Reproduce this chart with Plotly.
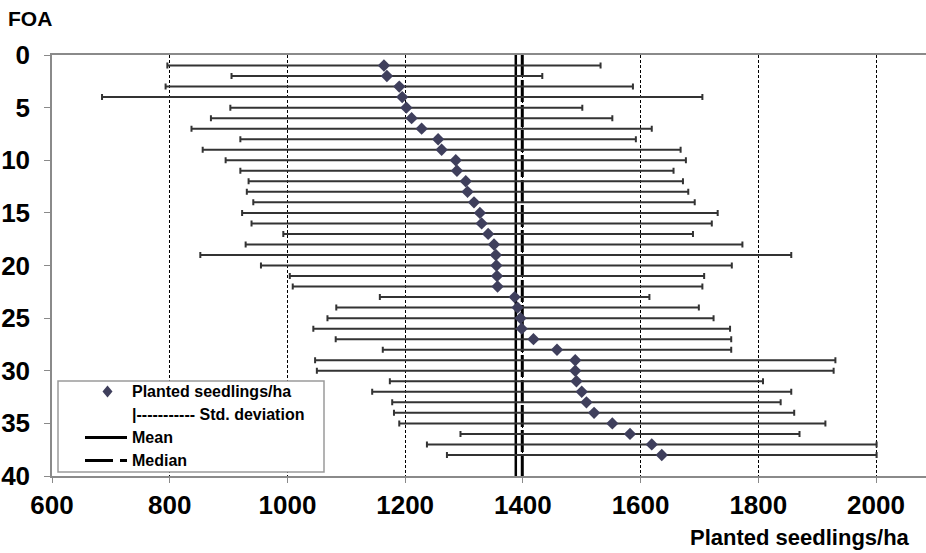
import plotly.graph_objects as go

# ---- data ----
foa = list(range(1, 39))
seedlings = [1164, 1169, 1190, 1195, 1202, 1211, 1228, 1256, 1262, 1286,
             1288, 1303, 1306, 1317, 1327, 1330, 1341, 1351, 1354, 1355,
             1356, 1357, 1386, 1391, 1396, 1398, 1418, 1458, 1489, 1489,
             1491, 1500, 1508, 1521, 1552, 1582, 1619, 1636]
std_dev = [368, 264, 397, 510, 299, 341, 391, 336, 406, 391,
           368, 369, 375, 375, 404, 391, 348, 422, 502, 400,
           352, 348, 229, 308, 328, 354, 336, 296, 442, 439,
           317, 356, 330, 340, 362, 288, 382, 365]
mean_value = 1388
median_value = 1399
x_ticks = [600, 800, 1000, 1200, 1400, 1600, 1800, 2000]
y_ticks = [0, 5, 10, 15, 20, 25, 30, 35, 40]

FONT = "Liberation Sans Narrow, Arial Narrow, Liberation Sans, Arial, sans-serif"

W, H = 926, 553
L, R, T, B = 52, 0, 55, 77
PW, PH = W - L - R, H - T - B


def px(xp):
    return (xp - L) / PW


def py(yp):
    return (H - B - yp) / PH


fig = go.Figure()

# mean / median lines
fig.add_trace(go.Scatter(x=[mean_value, mean_value], y=[0, 40], mode="lines",
                         line=dict(color="black", width=2.5), showlegend=False,
                         hoverinfo="skip"))
fig.add_trace(go.Scatter(x=[median_value, median_value], y=[0, 40], mode="lines",
                         line=dict(color="black", width=3, dash="22px,3px"),
                         showlegend=False, hoverinfo="skip"))

# data points with std deviation
fig.add_trace(go.Scatter(
    x=seedlings, y=foa, mode="markers",
    marker=dict(symbol="diamond", size=9.5, color="#3f3f5c"),
    error_x=dict(type="data", array=std_dev, visible=True,
                 color="#333333", thickness=2, width=3),
    showlegend=False))

shapes = []
annotations = []

# legend box
shapes.append(dict(type="rect", xref="paper", yref="paper",
                   x0=px(58), x1=px(324), y0=py(472), y1=py(381),
                   fillcolor="white", line=dict(color="#9a9a9a", width=1.5),
                   layer="above"))
# diamond symbol
cx, cy = 107.5, 391.5
shapes.append(dict(type="path", xref="paper", yref="paper",
                   path=f"M {px(cx-5)},{py(cy)} L {px(cx)},{py(cy-6)} L {px(cx+5)},{py(cy)} L {px(cx)},{py(cy+6)} Z",
                   fillcolor="#3f3f5c", line=dict(width=0), layer="above"))
# mean line symbol
shapes.append(dict(type="line", xref="paper", yref="paper",
                   x0=px(85), x1=px(127), y0=py(437.5), y1=py(437.5),
                   line=dict(color="black", width=3), layer="above"))
# median line symbol
shapes.append(dict(type="line", xref="paper", yref="paper",
                   x0=px(85), x1=px(113), y0=py(460.5), y1=py(460.5),
                   line=dict(color="black", width=3), layer="above"))
shapes.append(dict(type="line", xref="paper", yref="paper",
                   x0=px(120), x1=px(127), y0=py(460.5), y1=py(460.5),
                   line=dict(color="black", width=3), layer="above"))

leg_font = dict(family=FONT, size=16, color="black", weight="bold")
for txt, yy in [("Planted seedlings/ha", 391.5),
                ("|----------- Std. deviation", 414.5),
                ("Mean", 437.5),
                ("Median", 460.5)]:
    annotations.append(dict(text=txt, xref="paper", yref="paper",
                            x=px(130), y=py(yy), xanchor="left", yanchor="middle",
                            showarrow=False, font=leg_font))

# titles
annotations.append(dict(text="FOA", xref="paper", yref="paper",
                        x=px(6), y=py(19), xanchor="left", yanchor="middle",
                        showarrow=False,
                        font=dict(family=FONT, size=21, color="black", weight="bold")))
annotations.append(dict(text="Planted seedlings/ha", xref="paper", yref="paper",
                        x=px(912), y=py(537), xanchor="right", yanchor="middle",
                        showarrow=False,
                        font=dict(family=FONT, size=22, color="black", weight="bold")))

fig.update_layout(
    width=W, height=H,
    margin=dict(l=L, r=R, t=T, b=B, pad=0),
    plot_bgcolor="white", paper_bgcolor="white",
    shapes=shapes, annotations=annotations,
    showlegend=False,
)

fig.update_xaxes(
    range=[600, 600 + PW * 1.699], tickvals=x_ticks,
    ticktext=[str(v) for v in x_ticks],
    showgrid=True, gridcolor="black", gridwidth=1, griddash="3px,2px",
    showline=True, linecolor="#8a8a8a", linewidth=1.5, mirror=True,
    ticks="outside", ticklen=5, tickcolor="#8a8a8a",
    tickfont=dict(family=FONT, size=26, color="black", weight="bold"),
    ticklabelstandoff=0,
    zeroline=False,
)
fig.update_yaxes(
    range=[40, 0], tickvals=y_ticks,
    showgrid=False, showline=True, linecolor="#8a8a8a", linewidth=1.5,
    ticks="outside", ticklen=6, tickcolor="#8a8a8a",
    tickfont=dict(family=FONT, size=26, color="black", weight="bold"),
    ticklabelstandoff=9,
    zeroline=False,
)

fig.write_html(
    "out.html",
    config={"displayModeBar": False},
    post_script="document.body.style.margin='0';document.body.style.overflow='hidden';",
)
